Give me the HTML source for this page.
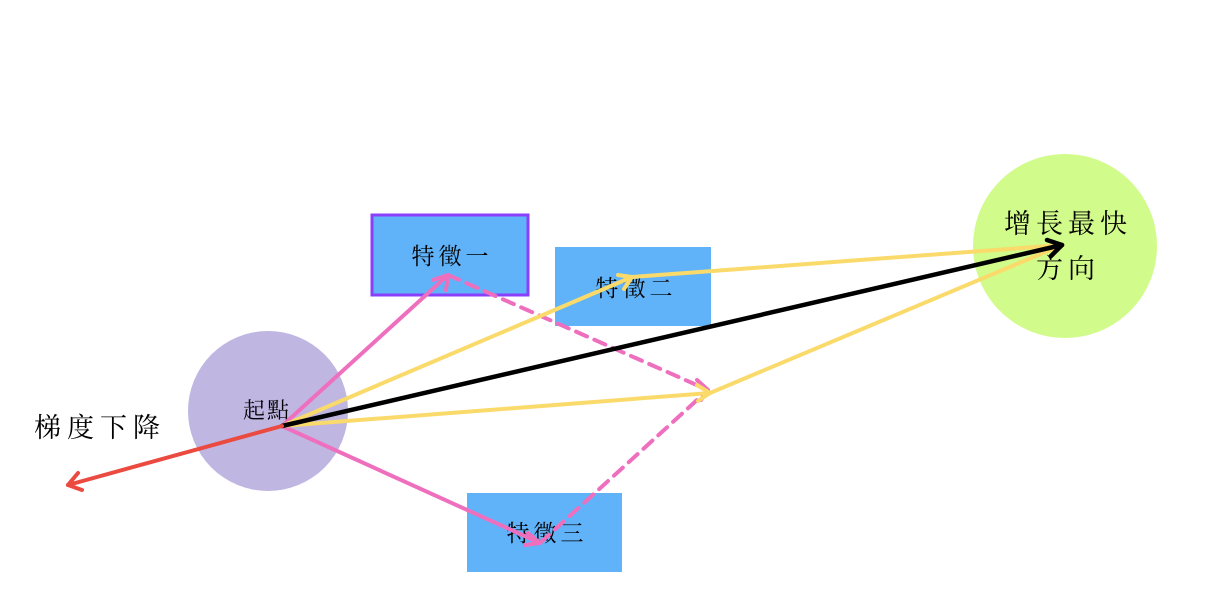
<!DOCTYPE html>
<html><head><meta charset="utf-8"><style>
html,body{margin:0;padding:0;background:#fff;width:1214px;height:600px;overflow:hidden}
text{font-family:"Liberation Serif","Noto Serif CJK SC","Noto Sans CJK TC",serif;fill:#000}
</style></head><body>
<svg width="1214" height="600" viewBox="0 0 1214 600" xmlns="http://www.w3.org/2000/svg">
<circle cx="268" cy="411" r="80" fill="#c0b6e2"/>
<circle cx="1065" cy="246" r="92" fill="#d1fb8a"/>
<rect x="372" y="215" width="156" height="80" fill="#60b3f8" stroke="#8a3ffc" stroke-width="3"/>
<rect x="555" y="247" width="156" height="79" fill="#60b3f8"/>
<rect x="467" y="493" width="155" height="79" fill="#60b3f8"/>
<text x="452" y="264" font-size="23" letter-spacing="4" text-anchor="middle">特徵一</text>
<text x="636" y="296" font-size="23" letter-spacing="4" text-anchor="middle">特徵二</text>
<text x="547" y="541" font-size="23" letter-spacing="4" text-anchor="middle">特徵三</text>
<text x="267" y="418" font-size="22" letter-spacing="2" text-anchor="middle">起點</text>
<text x="100" y="437" font-size="27" letter-spacing="6" text-anchor="middle">梯度下降</text>
<text x="1068" y="233" font-size="27" letter-spacing="5" text-anchor="middle">增長最快</text>
<text x="1068" y="278" font-size="27" letter-spacing="5" text-anchor="middle">方向</text>
<g fill="none" stroke-linecap="round" stroke-linejoin="round">
<g stroke="#ef6fbf" stroke-width="4">
<line x1="282" y1="426" x2="448" y2="275"/>
<polyline points="433,280 448,275 446,290"/>
<line x1="282" y1="426" x2="540" y2="543"/>
<polyline points="528,533 540,543 525,545"/>
<line x1="448" y1="275" x2="708" y2="390" stroke-dasharray="12,8"/>
<line x1="540" y1="543" x2="708" y2="390" stroke-dasharray="12,8"/>
<polyline points="697,380 708,390 701,400"/>
</g>
<g stroke="#fada6a" stroke-width="4">
<line x1="282" y1="426" x2="632" y2="277"/>
<polyline points="618,275 632,277 624,289"/>
<line x1="632" y1="277" x2="1062" y2="245"/>
<line x1="282" y1="426" x2="710" y2="393"/>
<polyline points="697,385 710,393 698,401"/>
<line x1="710" y1="393" x2="1062" y2="245"/>
</g>
<line x1="282" y1="426" x2="1062" y2="245" stroke="#000" stroke-width="4.5"/>
<polyline points="1047,240 1062,245 1051,256" stroke="#000" stroke-width="4.5"/>
<line x1="282" y1="426" x2="68" y2="485" stroke="#ea4a3f" stroke-width="4"/>
<polyline points="78,473 68,485 82,490" stroke="#ea4a3f" stroke-width="4"/>
</g>
</svg>
</body></html>
